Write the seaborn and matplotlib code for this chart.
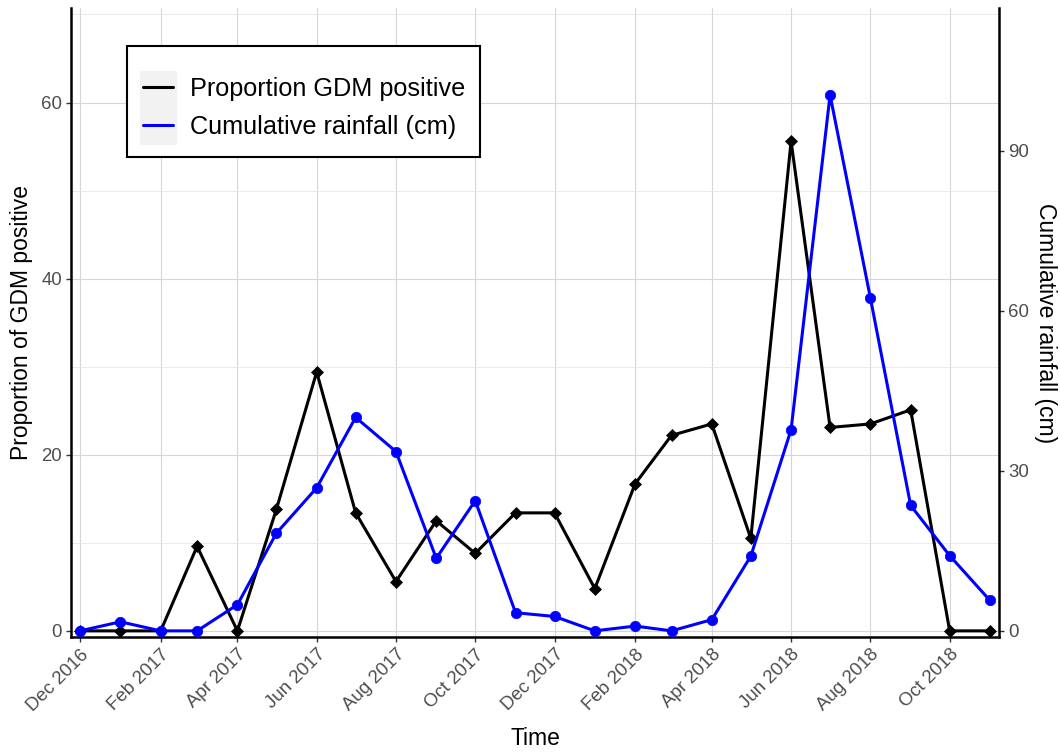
import pandas as pd
import matplotlib
matplotlib.use('Agg')
import matplotlib.pyplot as plt
import matplotlib.dates as mdates
from matplotlib.lines import Line2D
from matplotlib.patches import Rectangle
import seaborn as sns

# monthly values
months = ['2016-12', '2017-01', '2017-02', '2017-03', '2017-04', '2017-05',
          '2017-06', '2017-07', '2017-08', '2017-09', '2017-10', '2017-11',
          '2017-12', '2018-01', '2018-02', '2018-03', '2018-04', '2018-05',
          '2018-06', '2018-07', '2018-08', '2018-09', '2018-10', '2018-11']
gdm_positive = [0, 0, 0, 9.6, 0, 13.8, 29.4, 13.4, 5.6, 12.5, 8.8, 13.4,
                13.4, 4.8, 16.7, 22.2, 23.5, 10.5, 55.6, 23.1, 23.5, 25.1, 0, 0]
rainfall_cm = [0, 1.7, 0, 0, 4.9, 18.3, 26.8, 40.0, 33.6, 13.6, 24.4, 3.4,
               2.7, 0, 0.9, 0, 2.1, 14.0, 37.7, 100.4, 62.4, 23.5, 14.1, 5.7]
legend_labels = ['Proportion GDM positive', 'Cumulative rainfall (cm)']

df = pd.DataFrame({'month': pd.to_datetime(months),
                   'gdm': gdm_positive,
                   'rain': rainfall_cm})

sns.set_style('white')
plt.rcParams['font.family'] = ['Liberation Sans', 'DejaVu Sans']

fig = plt.figure(figsize=(10.6, 7.53), dpi=100)
ax = fig.add_axes([0.067, 0.154, 0.8755, 0.835])
ax2 = ax.twinx()

sns.lineplot(data=df, x='month', y='gdm', ax=ax, color='black', linewidth=2.2,
             marker='D', markersize=6.5, markeredgecolor='black', markeredgewidth=0.5)
sns.lineplot(data=df, x='month', y='rain', ax=ax2, color='#0000ff', linewidth=2.2,
             marker='o', markersize=7.5, markeredgecolor='#0000ff', markeredgewidth=0.5)

# axes limits (small 1% padding like the original)
ax.set_xlim(pd.Timestamp('2016-11-24'), pd.Timestamp('2018-11-08'))
ax.set_ylim(-0.7, 70.7)
ax2.set_ylim(-0.7 * 1.65, 70.7 * 1.65)

ax.xaxis.set_major_locator(mdates.MonthLocator(bymonth=[2, 4, 6, 8, 10, 12]))
ax.xaxis.set_major_formatter(mdates.DateFormatter('%b %Y'))
ax.set_yticks([0, 20, 40, 60])
ax.set_yticks([10, 30, 50, 70], minor=True)
ax2.set_yticks([0, 30, 60, 90])

# grid
ax.grid(True, which='major', color='#d6d6d6', linewidth=0.8)
ax.grid(True, which='minor', axis='y', color='#e6e6e6', linewidth=0.6)
ax.set_axisbelow(True)
ax2.grid(False)

# spines
for s in ['top', 'right']:
    ax.spines[s].set_visible(False)
for s in ['top', 'left', 'bottom']:
    ax2.spines[s].set_visible(False)
for sp in [ax.spines['left'], ax.spines['bottom'], ax2.spines['right']]:
    sp.set_color('black')
    sp.set_linewidth(1.8)

ax.tick_params(axis='both', which='major', length=3.5, width=1, color='#333333',
               labelcolor='#4d4d4d', labelsize=13.4, left=True, bottom=True, pad=3)
ax.tick_params(axis='y', which='minor', length=0)
ax2.tick_params(axis='y', length=3.5, width=1, color='#333333',
                labelcolor='#4d4d4d', labelsize=13.4, right=True, pad=3)
plt.setp(ax.get_xticklabels(), rotation=45, ha='right', rotation_mode='anchor')

ax.set_xlabel('Time', fontsize=16.5, color='black', labelpad=9)
ax.set_ylabel('Proportion of GDM positive', fontsize=16.5, color='black', labelpad=6)
ax2.set_ylabel('Cumulative rainfall (cm)', fontsize=16.5, color='black',
               rotation=270, labelpad=20)

# legend box, grey key background, then keys and labels on top
legend_frame = Rectangle((127 / 1060, 1 - 157 / 753), 353 / 1060, 111 / 753,
                         transform=fig.transFigure, facecolor='white',
                         edgecolor='black', linewidth=1.5, zorder=5)
ax2.add_artist(legend_frame)
key_bg = Rectangle((140 / 1060, 1 - 145 / 753), 37 / 1060, 74 / 753,
                   transform=fig.transFigure, facecolor='#f2f2f2',
                   edgecolor='none', zorder=6)
ax2.add_artist(key_bg)
handles = [Line2D([], [], color='black', linewidth=2.2),
           Line2D([], [], color='#0000ff', linewidth=2.2)]
leg = ax2.legend(handles, legend_labels, loc='upper left',
                 bbox_to_anchor=(143 / 1060, 1 - 77 / 753),
                 bbox_transform=fig.transFigure, borderaxespad=0, borderpad=0,
                 fontsize=18.2, handlelength=1.19, handletextpad=0.67,
                 labelspacing=0.56, frameon=False, labelcolor='black')
leg.set_zorder(7)

plt.savefig('out.png', dpi=100)
